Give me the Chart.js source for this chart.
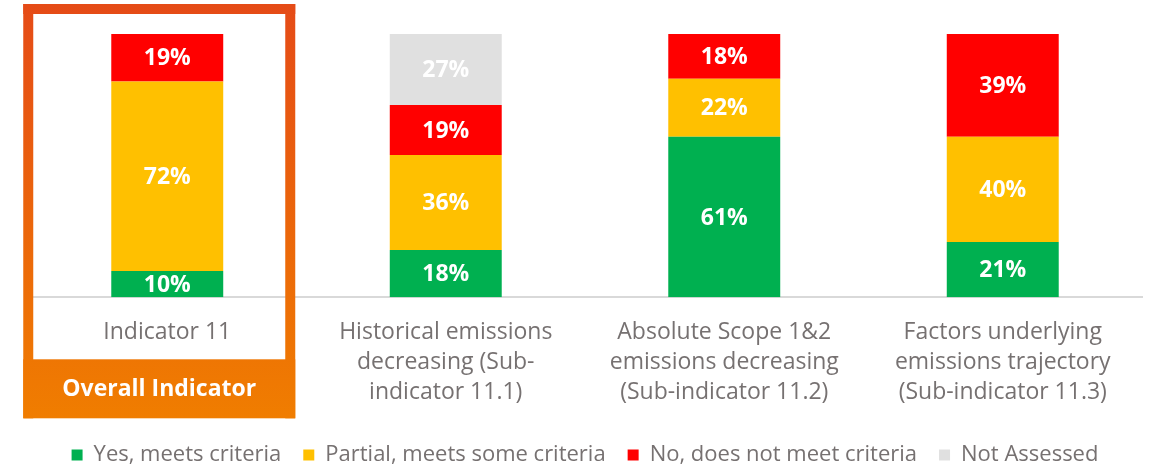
<!DOCTYPE html>
<html>
<head>
<meta charset="utf-8">
<script src="https://cdn.jsdelivr.net/npm/chart.js@4"></script>
<style>
  html, body { margin: 0; padding: 0; background: #fff; }
  #wrap { width: 1153px; height: 468px; }
</style>
</head>
<body>
<div id="wrap"><canvas id="indicatorChart"></canvas></div>
<script>
// categories and shares (%) per assessment outcome
const categories = [
    ['Indicator 11'],
    ['Historical emissions', 'decreasing (Sub-', 'indicator 11.1)'],
    ['Absolute Scope 1&2', 'emissions decreasing', '(Sub-indicator 11.2)'],
    ['Factors underlying', 'emissions trajectory', '(Sub-indicator 11.3)']
];
const yesMeets = [10, 18, 61, 21];
const partialMeets = [72, 36, 22, 40];
const noMeets = [19, 19, 18, 39];
const notAssessed = [0, 27, 0, 0];

const FONT = "'Open Sans', sans-serif";
const GREY_TEXT = '#767171';

// white percentage labels in the middle of each segment
const segmentLabels = {
    id: 'segmentLabels',
    afterDatasetsDraw(chart) {
        const ctx = chart.ctx;
        ctx.save();
        ctx.font = 'bold 23px ' + FONT;
        ctx.fillStyle = '#fff';
        ctx.textAlign = 'center';
        ctx.textBaseline = 'middle';
        chart.data.datasets.forEach((ds, i) => {
            const meta = chart.getDatasetMeta(i);
            meta.data.forEach((bar, j) => {
                const v = ds.data[j];
                if (!v) return;
                const top = Math.max(bar.y, chart.chartArea.top);
                ctx.fillText(v + '%', bar.x, (top + bar.base) / 2 + 1);
            });
        });
        ctx.restore();
    }
};

// orange frame that highlights the overall indicator
const overallFrame = {
    id: 'overallFrame',
    afterDraw(chart) {
        const ctx = chart.ctx;
        const area = chart.chartArea;
        const cx = chart.scales.x.getPixelForValue(0);
        const left = cx - 144, right = cx + 128;
        const top = area.top - 30, innerBottom = area.bottom + 62, bottom = area.bottom + 121;
        const w = right - left, t = 10;
        const grad = ctx.createLinearGradient(0, top, 0, bottom);
        grad.addColorStop(0, '#E54B17');
        grad.addColorStop(1, '#F07D00');
        ctx.save();
        ctx.fillStyle = grad;
        ctx.fillRect(left, top, w, t);
        ctx.fillRect(left, top, t, bottom - top);
        ctx.fillRect(right - t, top, t, bottom - top);
        ctx.fillRect(left, innerBottom, w, bottom - innerBottom);
        ctx.font = 'bold 23px ' + FONT;
        ctx.fillStyle = '#fff';
        ctx.textAlign = 'center';
        ctx.textBaseline = 'middle';
        ctx.fillText('Overall Indicator', (left + right) / 2, (innerBottom + bottom) / 2 + 1);
        ctx.restore();
    }
};

new Chart(document.getElementById('indicatorChart'), {
    type: 'bar',
    data: {
        labels: categories,
        datasets: [
            { label: 'Yes, meets criteria', data: yesMeets, backgroundColor: '#00B050' },
            { label: 'Partial, meets some criteria', data: partialMeets, backgroundColor: '#FFC000' },
            { label: 'No, does not meet criteria', data: noMeets, backgroundColor: '#FF0000' },
            { label: 'Not Assessed', data: notAssessed, backgroundColor: '#E0E0E0' }
        ]
    },
    options: {
        responsive: true,
        maintainAspectRatio: false,
        animation: false,
        layout: { padding: { top: 34, left: 28, right: 11, bottom: -8 } },
        datasets: {
            bar: { categoryPercentage: 1, barPercentage: 0.402, borderWidth: 0 }
        },
        scales: {
            x: {
                stacked: true,
                grid: { display: false },
                border: { display: true, color: '#D9D9D9', width: 2 },
                ticks: {
                    color: GREY_TEXT,
                    font: { family: FONT, size: 23, lineHeight: 1.3 },
                    maxRotation: 0,
                    autoSkip: false,
                    padding: 12
                },
                // leave room under the labels for the frame's caption band
                afterFit(scale) {
                    scale.height += 3;
                }
            },
            y: {
                stacked: true,
                display: false,
                min: 0,
                max: 100
            }
        },
        plugins: {
            legend: {
                position: 'bottom',
                labels: {
                    color: GREY_TEXT,
                    font: { family: FONT, size: 22 },
                    boxWidth: 11,
                    boxHeight: 11,
                    padding: 22
                }
            },
            tooltip: { enabled: false }
        }
    },
    plugins: [segmentLabels, overallFrame]
});
</script>
</body>
</html>
